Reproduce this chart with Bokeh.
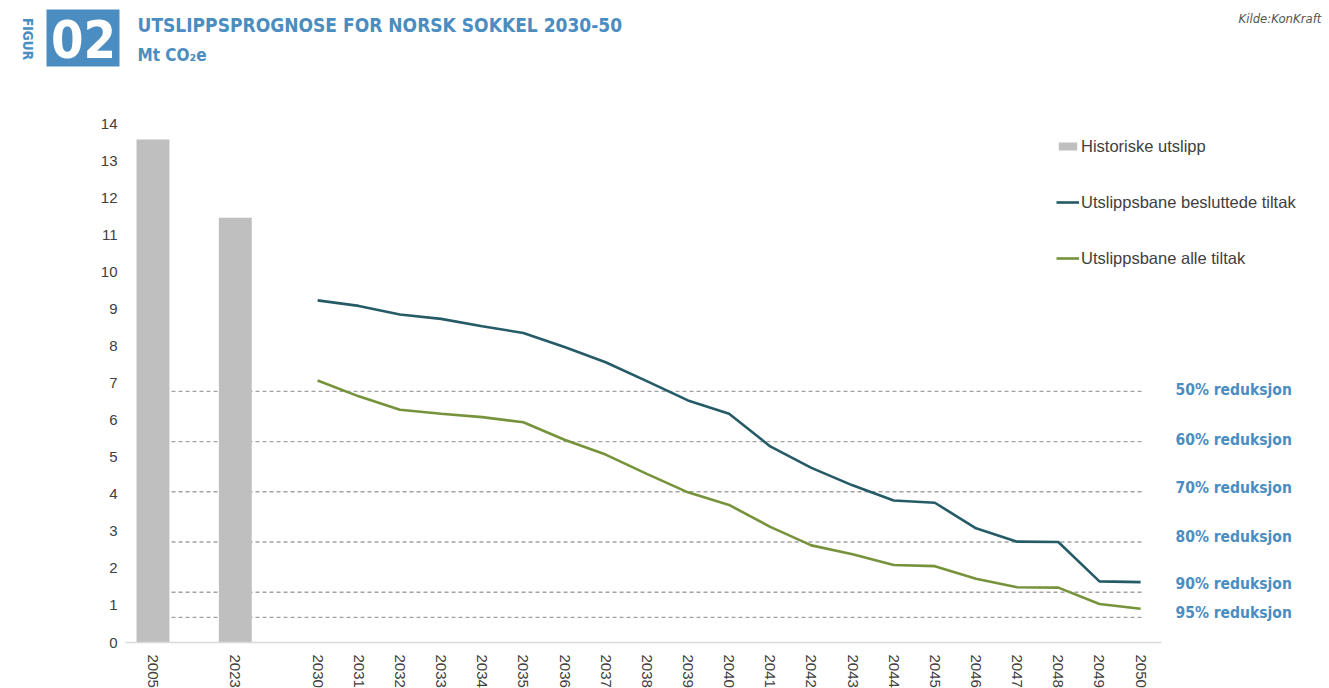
import math
from bokeh.plotting import figure
from bokeh.models import (FixedTicker, Label, LabelSet, Legend, LegendItem,
                          ColumnDataSource, Range1d, BoxAnnotation, LinearAxis)
from bokeh.core.properties import value
from bokeh.embed import file_html
from bokeh.resources import INLINE

# ---------------- data ----------------
hist_years = ["2005", "2023"]
hist_values = [13.57, 11.46]
proj_years = ["2030", "2031", "2032", "2033", "2034", "2035", "2036", "2037",
              "2038", "2039", "2040", "2041", "2042", "2043", "2044", "2045",
              "2046", "2047", "2048", "2049", "2050"]
decided_measures = [9.23, 9.08, 8.85, 8.73, 8.53, 8.35, 7.97, 7.56, 7.05, 6.53,
                    6.17, 5.29, 4.71, 4.24, 3.83, 3.77, 3.08, 2.72, 2.71, 1.65, 1.63]
all_measures = [7.07, 6.64, 6.28, 6.17, 6.08, 5.94, 5.47, 5.07, 4.55, 4.05,
                3.71, 3.12, 2.62, 2.38, 2.09, 2.06, 1.72, 1.49, 1.48, 1.04, 0.91]
reduction_pct = [50, 60, 70, 80, 90, 95]
reference_2005 = 13.55
y_ticks = list(range(0, 15))

# ---------------- layout ----------------
W, H = 1329, 688
AXIS_PX, BOTTOM_PX = 125, 642
PX_X, PX_Y = 41.15, 37.07
x_start = -152.5 / PX_X          # frame spans the full canvas
x_end = x_start + W / PX_X
y_start = -(H - BOTTOM_PX) / PX_Y
y_end = BOTTOM_PX / PX_Y


def dx(px):
    return x_start + px / PX_X


def dy(py):
    return (BOTTOM_PX - py) / PX_Y


hist_x = [0, 2]
proj_x = [4 + i for i in range(len(proj_years))]
all_x = hist_x + proj_x
tick_labels = {x: t for x, t in zip(all_x, hist_years + proj_years)}
levels = [reference_2005 * (1 - p / 100) for p in reduction_pct]
label_shift_px = [1, 2, 4, 5, 8, 4]

BLUE = "#4b8dc1"
GRAY_TXT = "#404040"
AX_FONT = "Liberation Sans"
DIN = "DejaVu Sans Condensed"

p = figure(width=W, height=H, output_backend="svg", toolbar_location=None,
           x_range=Range1d(x_start, x_end), y_range=Range1d(y_start, y_end),
           x_axis_location=None, y_axis_location=None,
           min_border_left=0, min_border_right=0, min_border_top=0,
           min_border_bottom=0)
p.outline_line_color = None
p.xgrid.visible = False
p.ygrid.visible = False
p.background_fill_color = "white"
p.border_fill_color = "white"

# axes (fixed inside the full-canvas frame)
xa = LinearAxis(fixed_location=0, ticker=FixedTicker(ticks=all_x))
xa.major_label_overrides = tick_labels
xa.major_label_orientation = -math.pi / 2
xa.axis_line_color = "#d9d9d9"
xa.axis_line_width = 1.5
xa.bounds = (dx(AXIS_PX), 24.5)
xa.major_tick_in = 0
xa.major_tick_out = 0
xa.minor_tick_in = 0
xa.minor_tick_out = 0
xa.major_label_standoff = 12
xa.major_label_text_font = AX_FONT
xa.major_label_text_font_size = "15px"
xa.major_label_text_color = GRAY_TXT
p.add_layout(xa, "below")

ya = LinearAxis(fixed_location=dx(AXIS_PX), ticker=FixedTicker(ticks=y_ticks))
ya.axis_line_color = None
ya.major_tick_in = 0
ya.major_tick_out = 0
ya.minor_tick_in = 0
ya.minor_tick_out = 0
ya.major_label_standoff = 8
ya.major_label_text_font = AX_FONT
ya.major_label_text_font_size = "15px"
ya.major_label_text_color = GRAY_TXT
p.add_layout(ya, "left")

# reference dashed lines
p.segment(x0=[hist_x[0] - 0.06] * len(levels), x1=[proj_x[-1] + 0.03] * len(levels),
          y0=levels, y1=levels, line_color="#a3a3a3", line_width=1.4,
          line_dash="4 3")

# bars
bars = p.vbar(x=hist_x, top=hist_values, width=0.8, bottom=0,
              fill_color="#bfbfbf", line_color=None)

# lines
l1 = p.line(proj_x, decided_measures, line_color="#255b66", line_width=2.6)
l2 = p.line(proj_x, all_measures, line_color="#76933c", line_width=2.6)

legend = Legend(items=[LegendItem(label="Historiske utslipp", renderers=[bars]),
                       LegendItem(label="Utslippsbane besluttede tiltak", renderers=[l1]),
                       LegendItem(label="Utslippsbane alle tiltak", renderers=[l2])],
                location=(1056, 374 + (H - BOTTOM_PX)), padding=0, margin=0, spacing=36,
                glyph_width=23, glyph_height=10, label_height=20,
                label_standoff=2, border_line_color=None,
                background_fill_alpha=0,
                label_text_font=AX_FONT, label_text_font_size="16.5px",
                label_text_color=GRAY_TXT)
p.add_layout(legend)

# reduction labels
src = ColumnDataSource(dict(
    x=[dx(1175)] * len(levels),
    y=[lv + s / PX_Y for lv, s in zip(levels, label_shift_px)],
    text=[f"{pc}% reduksjon" for pc in reduction_pct]))
p.add_layout(LabelSet(x="x", y="y", text="text", source=src,
                      text_baseline="middle", text_align="left",
                      text_font=value(DIN), text_font_style="bold",
                      text_font_size="15.5px", text_color=BLUE))

# header
p.add_layout(BoxAnnotation(left=dx(46), right=dx(119), top=dy(9), bottom=dy(66),
                           fill_color=BLUE, fill_alpha=1, line_color=None))
p.add_layout(Label(x=dx(83), y=dy(38), text="02", text_align="center",
                   text_baseline="middle", text_color="white",
                   text_font=DIN, text_font_style="bold",
                   text_font_size="52px"))
p.add_layout(Label(x=dx(27), y=dy(38.5), text="FIGUR", angle=-math.pi / 2,
                   text_align="center", text_baseline="middle",
                   text_color=BLUE, text_font=DIN,
                   text_font_style="bold", text_font_size="13.5px"))
p.add_layout(Label(x=dx(137), y=dy(24.5), text="UTSLIPPSPROGNOSE FOR NORSK SOKKEL 2030-50",
                   text_align="left", text_baseline="middle",
                   text_color=BLUE, text_font=DIN,
                   text_font_style="bold", text_font_size="19px"))
p.add_layout(Label(x=dx(137), y=dy(54), text="Mt CO₂e",
                   text_align="left", text_baseline="middle",
                   text_color=BLUE, text_font=DIN,
                   text_font_style="bold", text_font_size="17px"))
p.add_layout(Label(x=dx(1238), y=dy(18), text="Kilde:KonKraft",
                   text_align="left", text_baseline="middle",
                   text_color="#555555", text_font="DejaVu Sans Condensed",
                   text_font_style="italic", text_font_size="13px"))

open("out.html", "w").write(file_html(p, INLINE))
